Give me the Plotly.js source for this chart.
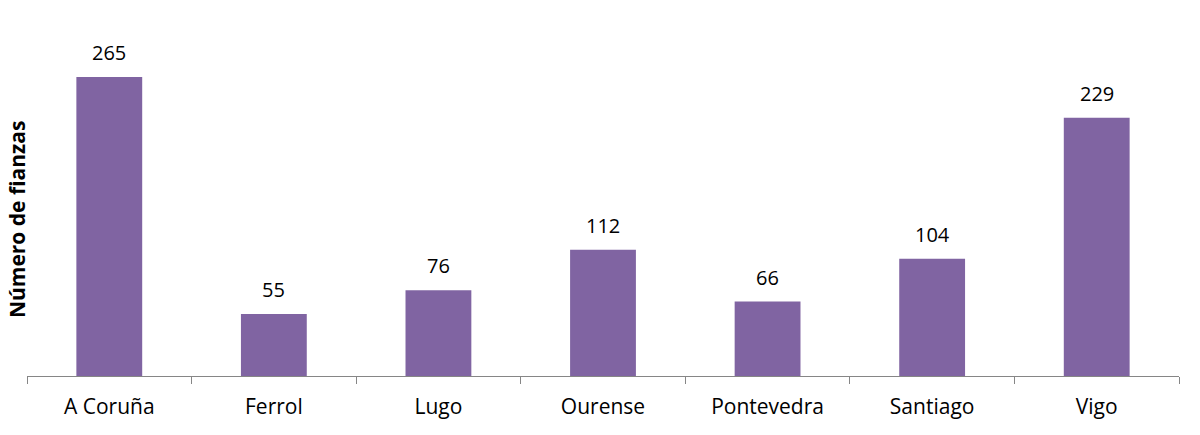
<!DOCTYPE html>
<html><head><meta charset="utf-8">
<script src="https://cdn.plot.ly/plotly-3.0.1.min.js"></script>
<style>html,body{margin:0;padding:0;background:#fff}#c{width:1200px;height:435px}</style>
</head><body><div id="c"></div>
<script>
const categories = ["A Coruña","Ferrol","Lugo","Ourense","Pontevedra","Santiago","Vigo"];
const fianzas = [265,55,76,112,66,104,229];
const yTitle = "Número de fianzas";

const trace = {
  type: 'bar', x: categories, y: fianzas,
  marker: {color: '#8064A2'},
  hoverinfo: 'skip'
};
const labelAnns = categories.map((c, i) => ({
  x: c, y: fianzas[i], xref: 'x', yref: 'y',
  text: String(fianzas[i]), showarrow: false,
  yanchor: 'bottom', xanchor: 'center', yshift: 9,
  font: {family: 'Open Sans', size: 20, color: '#000'}
}));
const layout = {
  width: 1200, height: 435,
  margin: {l: 27, r: 21, t: 20, b: 59},
  paper_bgcolor: '#fff', plot_bgcolor: '#fff',
  bargap: 0.6,
  showlegend: false,
  font: {family: 'Open Sans', color: '#000'},
  xaxis: {
    type: 'category', showline: true, linecolor: '#868686', linewidth: 1,
    ticks: 'outside', tickson: 'boundaries', ticklen: 7, tickcolor: '#868686',
    ticklabelstandoff: 12,
    tickfont: {family: 'Open Sans', size: 21, color: '#000'},
    showgrid: false, zeroline: false
  },
  yaxis: {range: [0, 315.6], visible: false, showgrid: false, zeroline: false},
  annotations: [{
    text: '<b>' + yTitle + '</b>', textangle: -90,
    xref: 'paper', yref: 'paper', x: 0, y: 0.438,
    xanchor: 'center', yanchor: 'middle', xshift: -10,
    showarrow: false, font: {family: 'Open Sans', size: 21, color: '#000'}
  }].concat(labelAnns)
};
Plotly.newPlot('c', [trace], layout, {staticPlot: true, displayModeBar: false});
</script></body></html>
